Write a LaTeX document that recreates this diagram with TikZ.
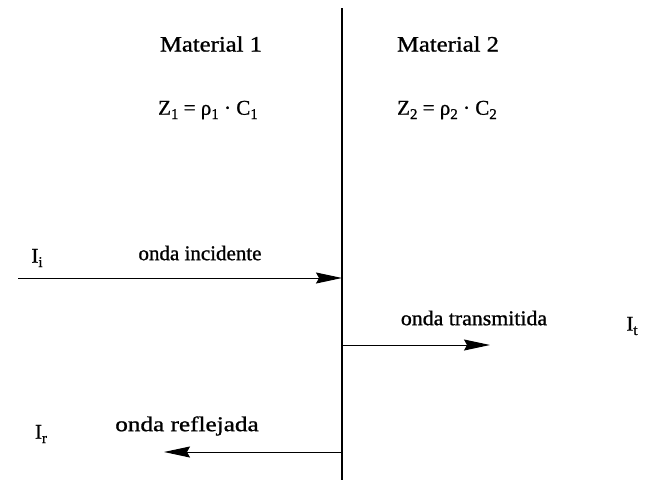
\documentclass[tikz,border=0pt]{standalone}
\usepackage{fontspec}
\setmainfont{Liberation Serif}[BoldFont=Liberation Serif, BoldFeatures={FakeBold=1.0}]
\usetikzlibrary{arrows.meta}
\newcommand{\sbs}[1]{\raisebox{-0.45ex}{\fontsize{15}{15}\selectfont #1}}
\begin{document}
\begin{tikzpicture}[x=1pt,y=-1pt,
  lbl/.style={font=\fontsize{21}{24}\selectfont\bfseries, inner sep=0pt, anchor=center},
  big/.style={font=\fontsize{22}{25}\selectfont\bfseries},
  eq/.style={font=\fontsize{21}{25}\selectfont\bfseries},
  wave/.style={line width=1pt, -{Stealth[length=26pt,width=11pt,inset=3pt]}},
  wall/.style={line width=1.6pt}]
\useasboundingbox (0,0) rectangle (646,480);
\coordinate (top) at (342,8);
\coordinate (bot) at (342,480);
\draw[wall] (top) -- (bot);
\node[lbl,big] (m1) at (211,44) {\scalebox{1.12}[1]{Material 1}};
\node[lbl,big] (m2) at (448,44) {\scalebox{1.12}[1]{Material 2}};
\node[lbl,eq] (z1) at (208,110) {Z\sbs{1} = ρ\sbs{1} · C\sbs{1}};
\node[lbl,eq] (z2) at (447,110) {Z\sbs{2} = ρ\sbs{2} · C\sbs{2}};
\node[lbl] (ii) at (37,258) {I\sbs{i}};
\node[lbl] (oi) at (200,253) {onda incidente};
\node[lbl] (ot) at (474,318) {\scalebox{1.04}[1]{onda transmitida}};
\node[lbl] (it) at (632,326) {I\sbs{t}};
\node[lbl] (ir) at (41,434) {I\sbs{r}};
\node[lbl] (or) at (187,426) {\scalebox{1.2}[1]{onda reflejada}};
\coordinate (iS) at (18,278);
\coordinate (iE) at (342,278);
\coordinate (tS) at (342,345);
\coordinate (tE) at (490,345);
\coordinate (rS) at (342,452);
\coordinate (rE) at (164,452);
\draw[wave] (iS) -- (iE);
\draw[wave] (tS) -- (tE);
\draw[wave] (rS) -- (rE);
\end{tikzpicture}
\end{document}
